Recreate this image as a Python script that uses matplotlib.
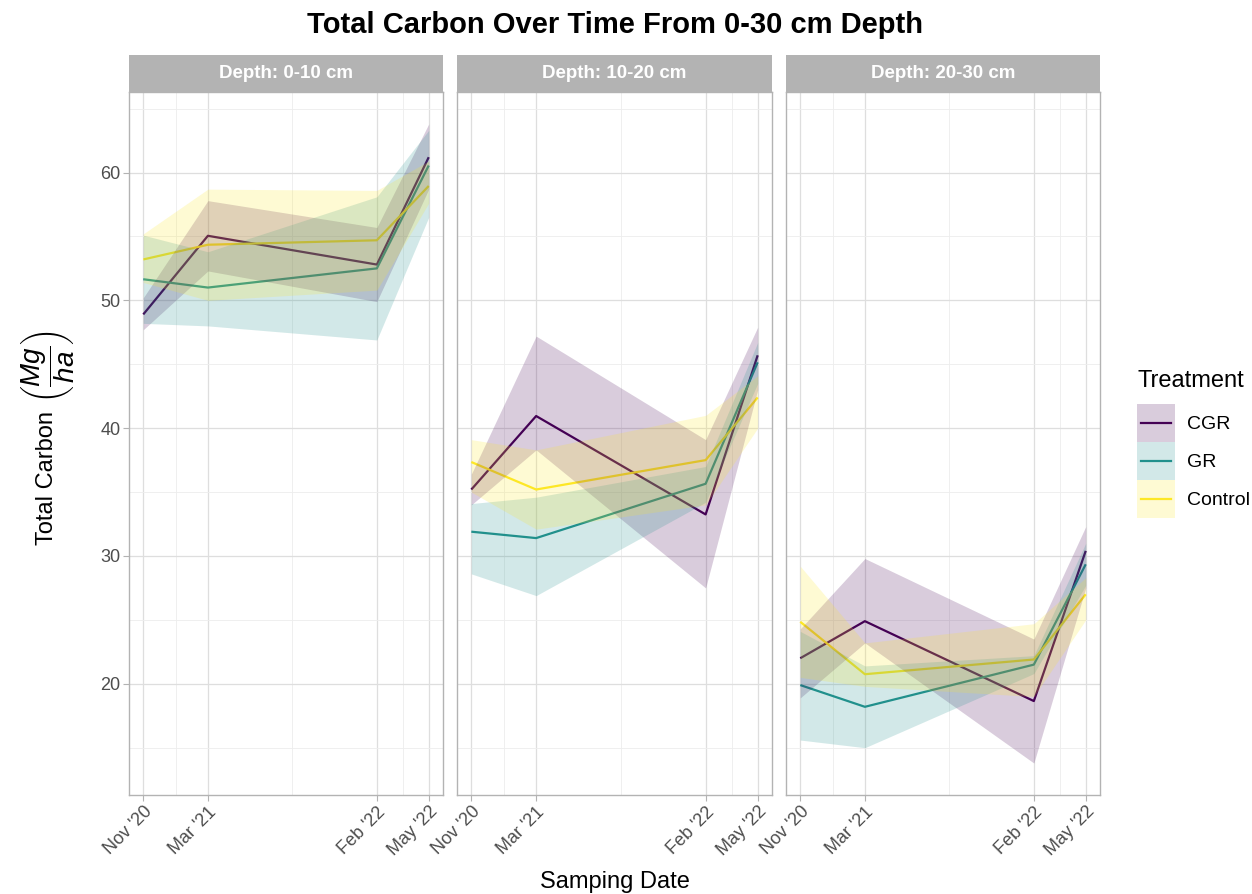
import numpy as np
import matplotlib
matplotlib.use("Agg")
import matplotlib.pyplot as plt
import matplotlib.dates as mdates
from matplotlib.patches import Rectangle
from matplotlib.lines import Line2D
from matplotlib.legend_handler import HandlerBase

plt.rcParams['font.family'] = ['Liberation Sans', 'DejaVu Sans']
plt.rcParams['mathtext.fontset'] = 'custom'
plt.rcParams['mathtext.rm'] = 'Liberation Sans'
plt.rcParams['mathtext.it'] = 'Liberation Sans:italic'

# ---------------- data ----------------
dates = np.array(['2020-11-10', '2021-03-17', '2022-02-12', '2022-05-25'], dtype='datetime64[D]')
depths = ['Depth: 0-10 cm', 'Depth: 10-20 cm', 'Depth: 20-30 cm']
treatments = ['CGR', 'GR', 'Control']
colors = ['#440154', '#21908C', '#FDE725']

# mean values per depth (rows) per treatment
cgr_mean = [[48.9, 55.05, 52.8, 61.2], [35.2, 40.95, 33.25, 45.7], [22.0, 24.9, 18.65, 30.4]]
gr_mean = [[51.65, 51.0, 52.5, 60.55], [31.9, 31.4, 35.65, 45.15], [19.9, 18.2, 21.5, 29.35]]
ctl_mean = [[53.2, 54.35, 54.7, 58.95], [37.35, 35.2, 37.5, 42.4], [24.85, 20.75, 21.9, 27.0]]

cgr_lo = [[47.7, 52.3, 49.9, 58.7], [34.0, 38.3, 27.5, 43.0], [18.9, 23.2, 13.8, 27.5]]
cgr_hi = [[50.2, 57.8, 55.7, 63.8], [36.4, 47.2, 39.1, 47.9], [24.3, 29.8, 23.5, 32.3]]
gr_lo = [[48.2, 48.0, 46.9, 56.5], [28.6, 26.9, 34.2, 43.5], [15.6, 15.0, 20.8, 27.7]]
gr_hi = [[55.1, 53.8, 58.1, 63.3], [34.1, 34.6, 37.0, 46.7], [24.1, 21.4, 22.2, 31.0]]
ctl_lo = [[51.4, 50.0, 50.8, 57.6], [35.0, 32.1, 34.0, 40.0], [20.5, 19.8, 19.0, 25.0]]
ctl_hi = [[55.2, 58.7, 58.6, 60.9], [39.1, 38.3, 41.0, 44.1], [29.2, 23.2, 24.7, 28.3]]

means = [cgr_mean, gr_mean, ctl_mean]
los = [cgr_lo, gr_lo, ctl_lo]
his = [cgr_hi, gr_hi, ctl_hi]

y_major = [20, 30, 40, 50, 60]
y_minor = [15, 25, 35, 45, 55, 65]

# ---------------- layout ----------------
W, H = 1252, 894
fig = plt.figure(figsize=(W / 100, H / 100), dpi=100)

panel_x = [(129, 443), (457, 772), (786, 1100)]
ptop, pbot = 92, 795
strip_h = 37

border = '#B3B3B3'
major_c = '#DEDEDE'
minor_c = '#EDEDED'

xd = mdates.date2num(dates.astype('datetime64[s]').astype(object))
x_minor = (xd[:-1] + xd[1:]) / 2

axes = []
for i, (x0, x1) in enumerate(panel_x):
    ax = fig.add_axes([x0 / W, 1 - pbot / H, (x1 - x0) / W, (pbot - ptop) / H],
                      sharey=axes[0] if axes else None)
    axes.append(ax)
    for t in range(3):
        ax.plot(xd, means[t][i], color=colors[t], lw=1.6, zorder=2, solid_capstyle='butt')
    for t in range(3):
        ax.fill_between(xd, los[t][i], his[t][i], color=colors[t], alpha=0.2, lw=0, zorder=3)
    ax.set_xticks(xd)
    ax.set_xticks(x_minor, minor=True)
    ax.xaxis.set_major_formatter(mdates.DateFormatter("%b '%y"))
    ax.set_yticks(y_major)
    ax.set_yticks(y_minor, minor=True)
    ax.grid(which='major', color=major_c, lw=0.9, zorder=0)
    ax.grid(which='minor', color=minor_c, lw=0.6, zorder=0)
    ax.set_axisbelow(True)
    for s in ax.spines.values():
        s.set_color(border)
        s.set_linewidth(1.0)
    ax.tick_params(which='major', length=4, color=border, labelsize=13, labelcolor='#4D4D4D', pad=2)
    ax.tick_params(which='minor', length=0)
    for lab in ax.get_xticklabels():
        lab.set_rotation(45)
        lab.set_ha('right')
        lab.set_va('top')
        lab.set_rotation_mode('anchor')
    if i > 0:
        ax.tick_params(axis='y', which='both', labelleft=False, length=0)
    # strip
    fig.patches.append(Rectangle((x0 / W, 1 - ptop / H), (x1 - x0) / W, strip_h / H,
                                 transform=fig.transFigure, facecolor=border, edgecolor='none'))
    fig.text((x0 + x1) / 2 / W, 1 - (ptop - strip_h / 2) / H, depths[i], color='white',
             fontsize=13.5, fontweight='bold', ha='center', va='center')

axes[0].margins(x=0.05, y=0.05)
axes[0].autoscale_view()
for ax in axes:
    ax.set_xlim(xd[0] - 0.05 * (xd[-1] - xd[0]), xd[-1] + 0.05 * (xd[-1] - xd[0]))

# y-axis title: text plus fraction
fig.text(47 / W, 1 - 478 / H, 'Total Carbon', fontsize=17, rotation=90, ha='center', va='center')
fig.text(48 / W, 1 - 366 / H, r'$\left(\dfrac{Mg}{ha}\right)$', fontsize=20, rotation=90,
         ha='center', va='center')

fig.text(615 / W, 1 - 882 / H, 'Samping Date', fontsize=17, ha='center', va='center')
fig.text(615 / W, 1 - 25 / H, 'Total Carbon Over Time From 0-30 cm Depth', fontsize=21,
         fontweight='bold', ha='center', va='center')


class KeyHandler(HandlerBase):
    def create_artists(self, legend, orig_handle, xdescent, ydescent, width, height, fontsize, trans):
        c = orig_handle.get_color()
        rect = Rectangle((-xdescent, -ydescent), width, height, facecolor=c, alpha=0.2,
                         edgecolor='none', transform=trans)
        yc = -ydescent + height / 2
        line = Line2D([-xdescent + 0.1 * width, -xdescent + 0.9 * width], [yc, yc], color=c,
                      lw=1.6, transform=trans)
        return [rect, line]


handles = [Line2D([], [], color=c) for c in colors]
fs = 14
key_pt = 38 * 72 / 100
leg = fig.legend(handles, treatments, loc='upper left', bbox_to_anchor=(1137 / W, 1 - 404 / H),
                 frameon=False, fontsize=fs,
                 handlelength=key_pt / fs, handleheight=(key_pt / fs - 0.245) / 0.65,
                 labelspacing=0.0, handletextpad=0.6, borderpad=0, borderaxespad=0,
                 handler_map={Line2D: KeyHandler()})
fig.text(1138 / W, 1 - 381 / H, 'Treatment', fontsize=17, ha='left', va='center')

fig.savefig('out.png', dpi=100)
